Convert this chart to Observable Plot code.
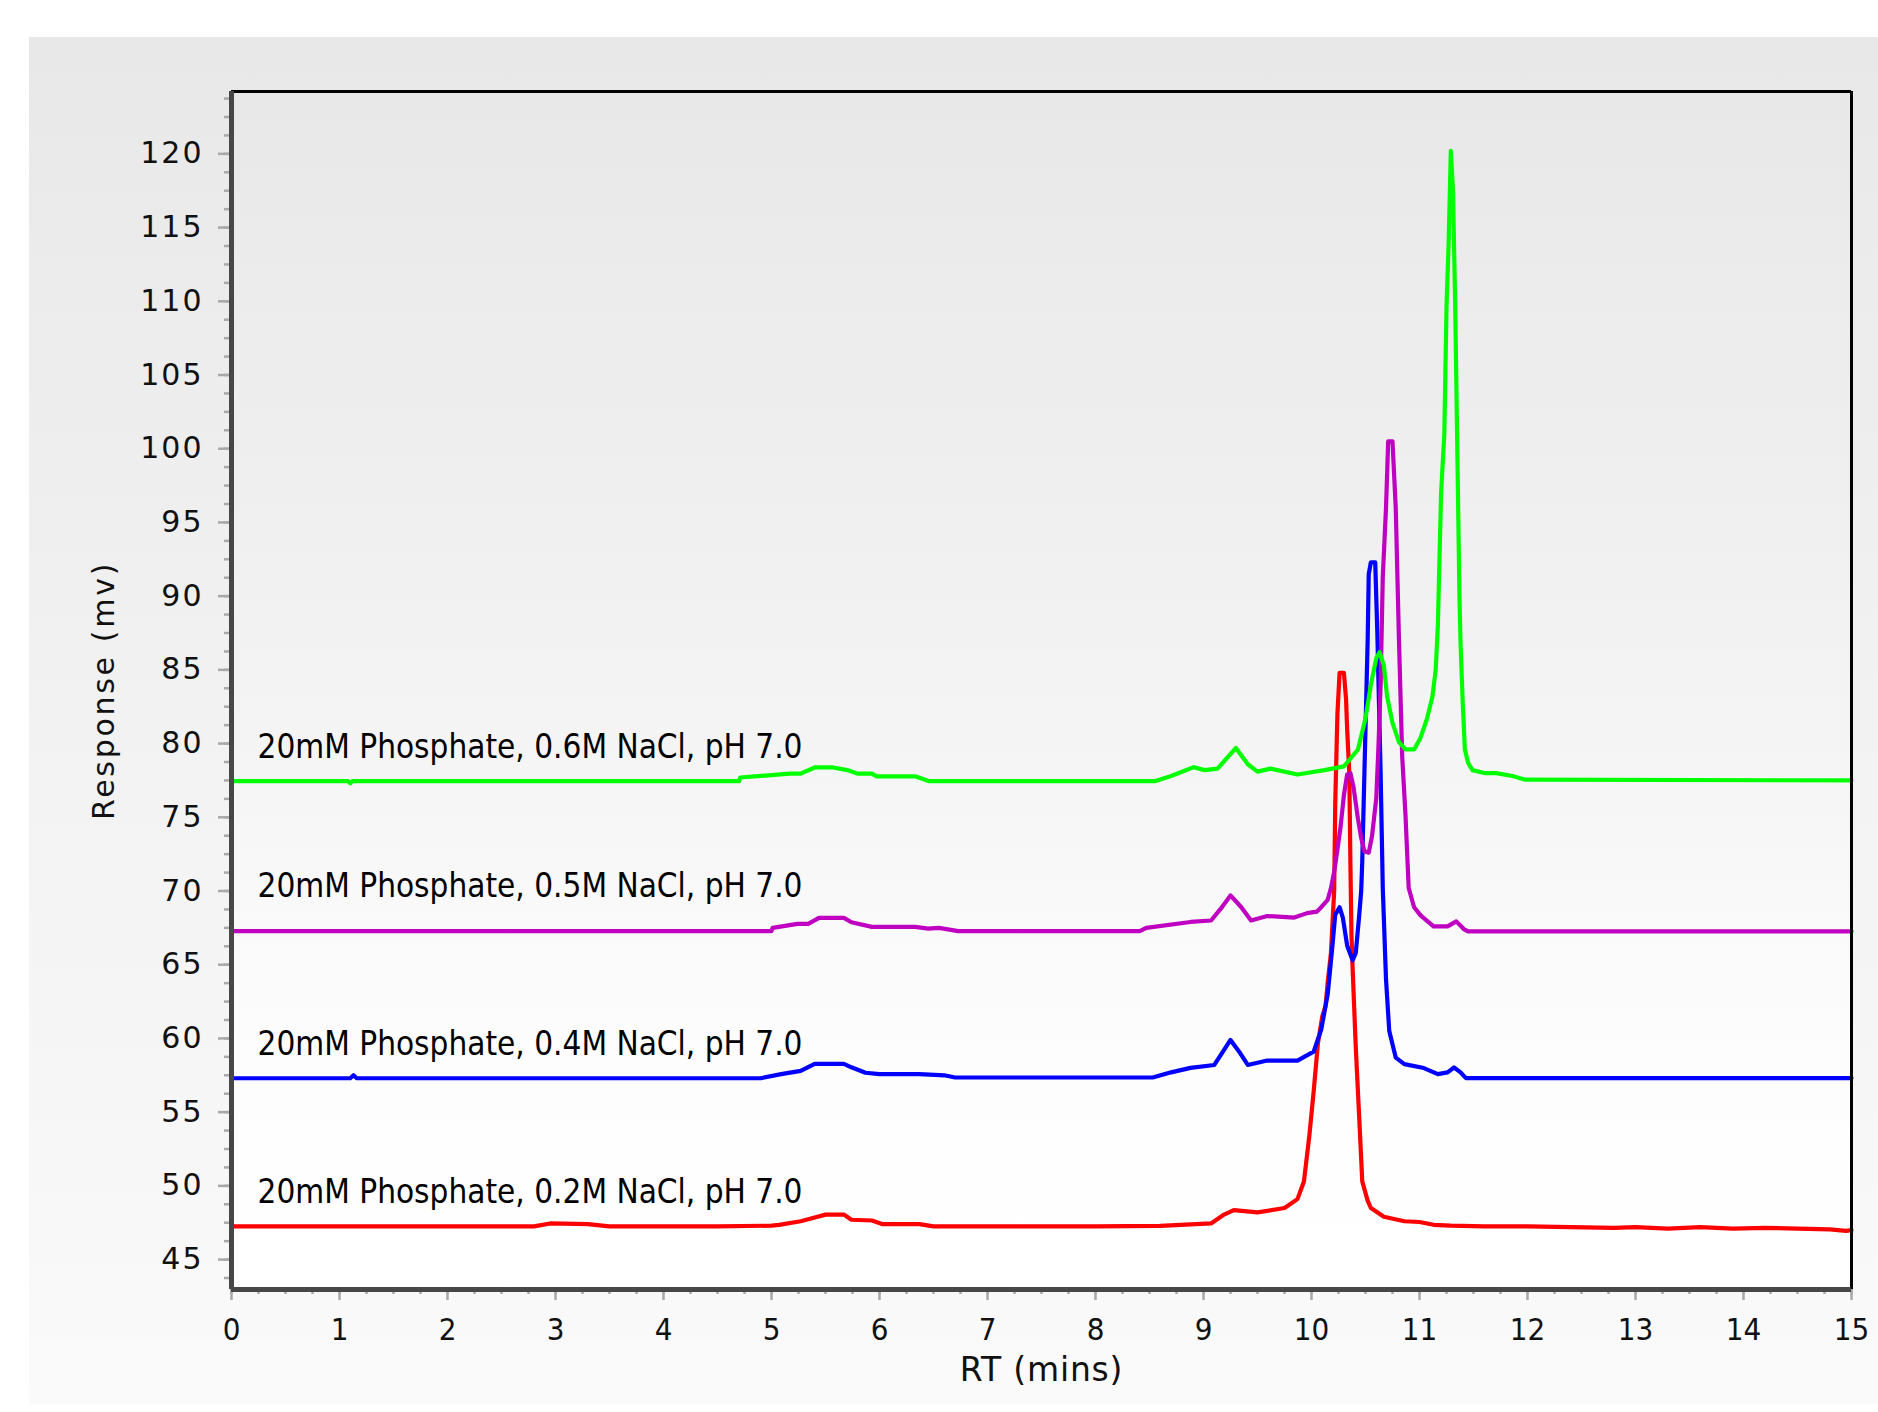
<!DOCTYPE html>
<html>
<head>
<meta charset="utf-8">
<script src="https://cdn.jsdelivr.net/npm/d3@7"></script>
<script src="https://cdn.jsdelivr.net/npm/@observablehq/plot@0.6"></script>
<style>
  html, body { margin: 0; padding: 0; background: #ffffff; }
  #wrap { position: relative; width: 1878px; height: 1412px; overflow: hidden; }
  #panel { position: absolute; left: 29px; top: 37px; right: 0; height: 1367px;
           background: linear-gradient(to bottom, #e8e8e8 0%, #f1f1f1 45%, #fafafa 100%); }
  #chart { position: absolute; left: 0; top: 0; }
</style>
</head>
<body>
<div id="wrap"><div id="panel"></div><div id="chart"></div></div>
<script>
// ---- series meta ----
const seriesNames = [
  "20mM Phosphate, 0.2M NaCl, pH 7.0",
  "20mM Phosphate, 0.4M NaCl, pH 7.0",
  "20mM Phosphate, 0.5M NaCl, pH 7.0",
  "20mM Phosphate, 0.6M NaCl, pH 7.0"
];
const seriesColors = ["#ff0000", "#0000ff", "#c000c0", "#00ff00"];

// ---- 0.2M NaCl (red) ----
const rtRed = [0, 1.0, 2.0, 2.8, 2.95, 3.3, 3.5, 4.5, 5.0, 5.07, 5.27, 5.4, 5.5, 5.67, 5.74, 5.93, 6.03, 6.37, 6.5, 7.0, 8.0, 8.6, 9.07, 9.19, 9.28, 9.5, 9.75, 9.87, 9.93, 9.98, 10.02, 10.06, 10.10, 10.13, 10.15, 10.18, 10.21, 10.22, 10.24, 10.26, 10.30, 10.32, 10.33, 10.35, 10.36, 10.37, 10.38, 10.41, 10.44, 10.47, 10.52, 10.55, 10.67, 10.86, 11.0, 11.13, 11.29, 11.6, 12.0, 12.4, 12.8, 13.0, 13.3, 13.6, 13.9, 14.2, 14.5, 14.8, 14.95, 15.0];
const respRed = [47.25, 47.25, 47.25, 47.25, 47.45, 47.4, 47.25, 47.25, 47.3, 47.35, 47.6, 47.85, 48.05, 48.05, 47.7, 47.65, 47.4, 47.4, 47.25, 47.25, 47.25, 47.28, 47.45, 48.05, 48.35, 48.2, 48.5, 49.1, 50.3, 53.4, 56.4, 59.7, 61.5, 62.2, 63.8, 65.8, 70.0, 76.0, 82.0, 84.8, 84.8, 83.0, 81.0, 78.0, 72.0, 67.0, 64.9, 59.4, 54.9, 50.3, 49.0, 48.5, 47.9, 47.6, 47.55, 47.36, 47.3, 47.25, 47.25, 47.2, 47.15, 47.2, 47.1, 47.2, 47.1, 47.15, 47.1, 47.05, 46.95, 47.0];

// ---- 0.4M NaCl (blue) ----
const rtBlue = [0, 1.1, 1.13, 1.16, 4.9, 5.09, 5.27, 5.4, 5.67, 5.74, 5.87, 6.0, 6.37, 6.6, 6.7, 8.53, 8.7, 8.88, 9.10, 9.18, 9.25, 9.33, 9.41, 9.59, 9.87, 10.02, 10.09, 10.15, 10.19, 10.22, 10.26, 10.29, 10.33, 10.38, 10.41, 10.44, 10.46, 10.47, 10.49, 10.52, 10.53, 10.55, 10.59, 10.61, 10.64, 10.66, 10.69, 10.72, 10.78, 10.86, 11.04, 11.17, 11.26, 11.32, 11.38, 11.43, 15];
const respBlue = [57.3, 57.3, 57.5, 57.3, 57.3, 57.58, 57.8, 58.28, 58.28, 58.04, 57.67, 57.58, 57.58, 57.5, 57.35, 57.35, 57.7, 58.0, 58.2, 59.1, 59.9, 59.1, 58.2, 58.5, 58.5, 59.1, 60.6, 63.0, 66.0, 68.4, 68.9, 68.2, 66.3, 65.3, 65.8, 68.2, 70.0, 72.0, 78.0, 87.0, 91.5, 92.3, 92.3, 87.4, 78.0, 70.2, 64.0, 60.5, 58.7, 58.26, 57.99, 57.58, 57.7, 58.03, 57.7, 57.31, 57.31];

// ---- 0.5M NaCl (purple) ----
const rtPurple = [0, 5.0, 5.01, 5.24, 5.34, 5.44, 5.67, 5.74, 5.93, 6.33, 6.45, 6.55, 6.73, 8.41, 8.47, 8.88, 9.07, 9.16, 9.25, 9.35, 9.44, 9.59, 9.84, 9.96, 10.05, 10.09, 10.15, 10.18, 10.21, 10.24, 10.27, 10.30, 10.33, 10.36, 10.39, 10.43, 10.46, 10.49, 10.53, 10.56, 10.60, 10.62, 10.64, 10.66, 10.69, 10.71, 10.75, 10.78, 10.81, 10.84, 10.87, 10.90, 10.95, 11.01, 11.13, 11.26, 11.34, 11.41, 11.45, 15];
const respPurple = [67.28, 67.28, 67.5, 67.77, 67.77, 68.18, 68.18, 67.88, 67.57, 67.57, 67.45, 67.5, 67.28, 67.28, 67.5, 67.9, 68.0, 68.8, 69.7, 68.9, 68.0, 68.3, 68.2, 68.5, 68.6, 68.9, 69.4, 70.2, 71.3, 72.8, 74.4, 76.5, 77.9, 78.0, 77.0, 74.9, 73.6, 72.7, 72.6, 73.7, 76.3, 79.8, 84.0, 91.3, 96.0, 100.5, 100.5, 96.0, 87.0, 79.1, 75.2, 70.2, 68.9, 68.35, 67.6, 67.6, 67.94, 67.42, 67.26, 67.26];

// ---- 0.6M NaCl (green) ----
const rtGreen = [0, 1.08, 1.1, 1.12, 4.7, 4.71, 5.17, 5.27, 5.40, 5.57, 5.70, 5.80, 5.93, 5.97, 6.33, 6.46, 8.55, 8.70, 8.91, 9.01, 9.13, 9.30, 9.41, 9.50, 9.62, 9.87, 10.12, 10.30, 10.43, 10.50, 10.55, 10.60, 10.63, 10.67, 10.70, 10.75, 10.81, 10.87, 10.95, 11.01, 11.07, 11.12, 11.15, 11.17, 11.18, 11.20, 11.23, 11.25, 11.27, 11.29, 11.31, 11.33, 11.35, 11.36, 11.37, 11.38, 11.40, 11.42, 11.45, 11.49, 11.6, 11.71, 11.86, 11.98, 15];
const respGreen = [77.45, 77.45, 77.3, 77.45, 77.45, 77.7, 77.96, 77.96, 78.38, 78.38, 78.2, 77.96, 77.96, 77.78, 77.78, 77.45, 77.45, 77.8, 78.4, 78.2, 78.3, 79.7, 78.6, 78.1, 78.3, 77.9, 78.2, 78.45, 79.6, 81.7, 84.0, 85.8, 86.2, 85.3, 83.2, 81.4, 80.1, 79.6, 79.6, 80.4, 81.7, 83.2, 85.0, 88.0, 91.0, 97.0, 101.0, 109.6, 114.0, 120.2, 117.5, 110.0, 100.0, 95.0, 90.0, 86.8, 82.8, 79.6, 78.7, 78.2, 78.0, 78.0, 77.8, 77.55, 77.5];

// ---- axes ----
const xTicks = [0, 1, 2, 3, 4, 5, 6, 7, 8, 9, 10, 11, 12, 13, 14, 15];
const yTicks = [45, 50, 55, 60, 65, 70, 75, 80, 85, 90, 95, 100, 105, 110, 115, 120];
const xDomain = [0, 15];
const yDomain = [42.97, 124.23];
const xLabel = "RT (mins)";
const yLabel = "Response (mv)";

// ---- build table ----
const seriesData = [
  {rt: rtRed, resp: respRed},
  {rt: rtBlue, resp: respBlue},
  {rt: rtPurple, resp: respPurple},
  {rt: rtGreen, resp: respGreen}
];
const rows = seriesData.flatMap((s, k) => s.rt.map((t, i) => ({series: seriesNames[k], rt: t, resp: s.resp[i]})));
const labelRows = seriesData.map((s, k) => ({series: seriesNames[k], rt: s.rt[0], resp: s.resp[0]}));

const xMinor = d3.range(xDomain[0], xDomain[1] + 0.001, 0.25);
const yMinor = d3.range(43.75, yDomain[1], 1.25);

// label lift above each trace's baseline (pixels, style only)
const labelLift = [23, 23, 34, 23];

const tickGrey = "#a9a9a9";
const axisDark = "#474747";
const condensed = "'DejaVu Sans Condensed', 'Liberation Sans Narrow', 'DejaVu Sans', sans-serif";

const chart = Plot.plot({
  width: 1878,
  height: 1412,
  marginLeft: 231,
  marginRight: 27,
  marginTop: 91,
  marginBottom: 123,
  style: {background: "transparent", fontFamily: "'DejaVu Sans', sans-serif", color: "#111"},
  x: {domain: xDomain, label: null},
  y: {domain: yDomain, label: null},
  color: {domain: seriesNames, range: seriesColors},
  marks: [
    Plot.frame({fill: "url(#plotAreaGrad)", stroke: null}),
    // minor ticks
    Plot.axisY(yMinor, {anchor: "left", tickSize: 7, tickFormat: () => "", stroke: tickGrey, strokeWidth: 2.5, label: null}),
    Plot.axisX(xMinor, {anchor: "bottom", tickSize: 5, tickFormat: () => "", stroke: tickGrey, strokeWidth: 2.5, label: null}),
    // major ticks + labels
    Plot.axisY(yTicks, {anchor: "left", tickSize: 13, tickPadding: 15, fontSize: 30, fontFamily: "'DejaVu Sans', sans-serif",
      stroke: tickGrey, strokeWidth: 2.5, color: "#111", label: null}),
    Plot.axisX(xTicks, {anchor: "bottom", tickSize: 11, tickPadding: 17, fontSize: 31, fontFamily: condensed,
      stroke: tickGrey, strokeWidth: 2.5, color: "#111", label: null}),
    // curves
    Plot.line(rows, {x: "rt", y: "resp", z: "series", stroke: "series", strokeWidth: 4.2, curve: "linear"}),
    // series labels
    ...labelRows.map((r, k) => Plot.text([r], {x: "rt", y: "resp", text: "series", textAnchor: "start", lineAnchor: "bottom",
      dx: 26, dy: -labelLift[k], fontSize: 33, fontFamily: condensed, fill: "#000"})),
    // frame lines
    Plot.ruleY([yDomain[1]], {stroke: "#000", strokeWidth: 3}),
    Plot.ruleX([xDomain[1]], {stroke: "#000", strokeWidth: 3}),
    Plot.ruleX([xDomain[0]], {stroke: axisDark, strokeWidth: 5}),
    Plot.ruleY([yDomain[0]], {stroke: axisDark, strokeWidth: 5}),
    // axis titles
    Plot.text([xLabel], {frameAnchor: "bottom", textAnchor: "middle", lineAnchor: "top", dy: 68,
      fontSize: 33, fontFamily: "'DejaVu Sans', sans-serif", fill: "#111"}),
    Plot.text([yLabel], {frameAnchor: "left", textAnchor: "middle", lineAnchor: "top", rotate: -90, dx: -139,
      fontSize: 30, fontFamily: "'DejaVu Sans', sans-serif", fill: "#111"})
  ]
});

const svg = d3.select(chart);
svg.insert("defs", ":first-child").html(
  '<linearGradient id="plotAreaGrad" x1="0" y1="0" x2="0" y2="1">' +
  '<stop offset="0" stop-color="#e8e8e8"/>' +
  '<stop offset="0.5" stop-color="#f3f3f3"/>' +
  '<stop offset="0.8" stop-color="#fdfdfd"/>' +
  '<stop offset="1" stop-color="#ffffff"/>' +
  '</linearGradient>'
);
svg.selectAll("g[aria-label='y-axis tick label'] text").style("letter-spacing", "2px");
svg.selectAll("text").filter(function() { return this.textContent === yLabel; }).style("letter-spacing", "2.7px");
svg.selectAll("text").filter(function() { return this.textContent === xLabel; }).style("letter-spacing", "0.8px");
document.getElementById("chart").appendChild(chart);
</script>
</body>
</html>
